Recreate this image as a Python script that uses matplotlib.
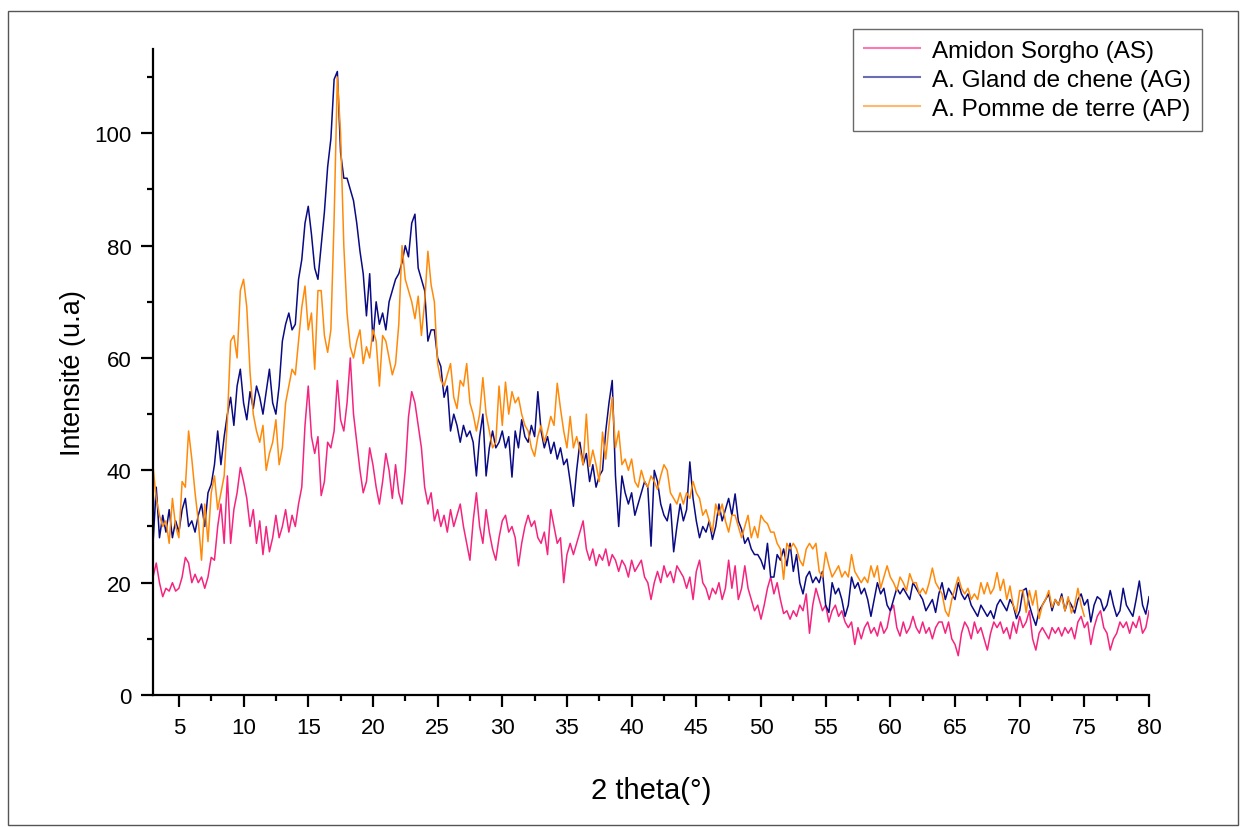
import numpy as np
import matplotlib
matplotlib.use("Agg")
import matplotlib.pyplot as plt
from matplotlib.patches import Rectangle
from matplotlib.ticker import MultipleLocator

plt.rcParams['font.family'] = ['Liberation Sans', 'DejaVu Sans']

# 2 theta grid, 0.25 deg steps
theta = np.arange(3.0, 80.001, 0.25)

# Amidon Sorgho (AS), one row per degree
amidon_sorgho = [
    21, 23.5, 20, 17.5,
    19, 18.5, 20, 18.5,
    19, 21, 24.5, 23.5,
    20, 21.5, 20, 21,
    19, 21, 24.5, 24,
    30, 34, 27, 39,
    27, 33, 36, 40.5,
    38, 35, 30, 33,
    27, 31, 25, 30,
    25.5, 28, 32, 28,
    30, 33, 29, 32,
    30, 34, 37, 48,
    55, 46, 43, 46,
    35.5, 38, 45, 44,
    47, 56, 49, 47,
    52, 60, 50, 45,
    40, 36, 38, 44,
    41, 37, 34, 38,
    43, 40, 35, 41,
    36, 34, 40, 49.5,
    54, 52, 48, 44,
    37, 34, 36, 31,
    33, 30, 32, 29,
    33, 30, 32, 34,
    30, 27, 24, 31,
    36, 30, 27, 33,
    29, 26, 24, 28,
    31, 32, 29, 30,
    28, 23, 27, 30,
    32, 30, 31, 28,
    27, 29, 25, 33,
    30, 27, 28, 20,
    25, 27, 25, 27,
    29, 31, 26, 24,
    26, 23, 25, 24,
    26, 23, 25, 24,
    22, 24, 23, 21,
    24, 22, 23, 24,
    21, 20, 17, 20,
    22, 20, 23, 21,
    22, 20, 23, 22,
    21, 19, 21, 17,
    22, 24, 20, 19,
    17, 19, 18, 20,
    17, 19, 24, 19,
    23, 17, 19, 23,
    19, 17, 15, 16,
    13.5, 16, 19, 21,
    18, 20, 17, 14.5,
    15, 13.5, 15, 14,
    16, 15, 18, 11,
    16, 19, 17, 15,
    16, 13, 15, 16,
    14, 15, 13, 12,
    13, 9, 12, 10,
    12, 13, 11, 12,
    10.5, 13, 11, 12,
    15, 16, 12, 10.5,
    13, 11, 12, 14,
    12, 11, 13, 11,
    12, 10, 12, 13,
    13, 11, 13, 10,
    9, 7, 11, 13,
    12, 10, 13, 11,
    12, 10, 8, 11,
    13, 12, 13, 11,
    12, 10, 13, 11,
    14, 12, 13, 15,
    10, 8, 11, 12,
    11, 10, 12, 11,
    12, 10.5, 12, 11,
    12, 10, 13, 14,
    12, 13, 9, 12,
    14, 15, 12, 11,
    8, 10, 11, 13,
    12, 13, 11, 13,
    12, 14, 11, 12,
    15,
]

# A. Gland de chene (AG)
gland_chene = [
    27, 37, 28, 32,
    29, 33, 28, 31,
    29, 33, 35, 30,
    31, 29, 32, 34,
    30, 36, 37.5, 41,
    47, 41, 46, 50,
    53, 48, 55, 58,
    52, 49, 54, 51,
    55, 53, 50, 54,
    58, 52, 50, 55,
    63, 66, 68, 65,
    66, 74, 77.5, 84,
    87, 82, 76, 74,
    80, 86, 94, 99,
    109.6, 111, 96.6, 92,
    92, 90, 88, 84,
    79, 75, 67.5, 75,
    63, 70, 66, 68,
    65, 70, 72, 74,
    75, 77, 80, 78,
    84, 85.6, 76, 74,
    72, 63, 65, 65,
    60, 58.5, 53, 55,
    47, 50, 48, 45,
    48, 46, 47, 45,
    39, 46, 50, 39,
    44, 47, 44, 45,
    47, 44, 46, 38.8,
    47, 44, 49, 46,
    45, 48, 46, 54,
    47, 44, 46, 43,
    45, 42, 44, 41,
    42, 38, 33.6, 40,
    45, 41, 43, 38,
    41, 37, 39, 40,
    47, 52, 56, 39,
    30, 39, 36, 34,
    36, 32, 34, 36,
    38, 37, 26.5, 40,
    38, 34, 32, 31,
    34, 25.5, 30, 34,
    31, 33, 41.5, 35,
    31, 28, 30, 29,
    31, 27.7, 30, 34,
    31, 33, 35, 32,
    35.8, 31, 29.5, 27,
    28, 26, 25, 25,
    24, 22.4, 27, 21,
    21, 25, 24, 26,
    23, 27, 22, 25,
    20, 18, 21, 22,
    20, 21, 20, 22,
    16, 14.7, 20, 18,
    19, 17, 14, 16,
    21, 19, 20, 18,
    19, 17, 14, 17,
    20, 18, 19, 16,
    15, 17, 19, 18,
    19, 18, 17, 20,
    19, 18, 17, 15,
    16, 17, 14.7, 18,
    20, 17, 19, 18,
    17, 20, 18, 17,
    18, 16, 15, 14,
    16, 15, 14, 15,
    13.6, 16, 17, 16,
    15, 17, 16, 13.6,
    15, 18.6, 19, 16,
    14, 12.4, 15, 16,
    17, 18, 15, 17,
    16, 18, 15, 17,
    16, 14.6, 17, 18,
    16, 17, 13, 16,
    17.5, 17, 15, 16,
    18.6, 16, 14, 15,
    19, 16, 15, 14,
    17, 20.3, 16, 14.4,
    17.5,
]

# A. Pomme de terre (AP), stops at 75 deg
pomme_terre = [
    40.7, 35, 32, 30,
    31, 27, 35, 30,
    28, 38, 37, 47,
    42, 36, 31, 24,
    34, 27.3, 36, 39,
    33, 36, 39, 49,
    63, 64, 60, 72,
    74, 69, 57.5, 50,
    47, 45, 48, 40,
    43, 45, 49, 41,
    44, 52, 55, 58,
    57, 63, 69, 72.8,
    65, 68, 58, 72,
    72, 64, 61, 65,
    84.7, 110, 100, 80,
    68, 62, 60, 63,
    65, 59, 62, 60,
    65, 63, 55, 64,
    63, 60, 57, 59,
    66, 80, 74, 72,
    70, 67, 71, 64,
    70, 79, 73, 70,
    59, 56, 55, 57,
    59, 53, 51, 56,
    55, 59, 52, 50,
    47, 50, 56.5, 50,
    47, 44, 45, 55,
    48, 55.7, 50, 54,
    52, 53, 50, 48,
    47, 44, 42.5, 46,
    48, 45, 47, 49.6,
    48, 55.5, 51, 47,
    44, 49.6, 44, 46,
    43.6, 41, 50, 40.7,
    43.6, 41, 38, 46.8,
    42, 48, 53, 44,
    47, 41, 42, 40,
    42, 38, 37, 40,
    38, 37, 39, 38,
    36.6, 39, 41, 40,
    36, 35, 34, 36,
    34, 36, 35, 38,
    36, 35, 32, 33,
    31, 29, 34, 32,
    34, 31, 29, 32,
    32, 30, 28, 30,
    32, 28, 30, 28,
    32, 31, 30.5, 29,
    29, 27, 26, 20.6,
    27, 26, 27, 26,
    24, 23, 26, 27,
    26, 27, 22, 21,
    25.4, 23, 21, 22,
    23, 21, 22, 21,
    25, 22, 21, 20,
    21, 20, 23, 21,
    23, 19, 21, 23,
    21, 20, 18.6, 21,
    20, 18.6, 21.6, 20,
    20, 18, 19, 18,
    20, 22.6, 20, 19,
    18, 15, 14, 17,
    19, 21, 19, 18,
    19, 17, 18, 17,
    20, 18, 20, 18,
    19, 21.8, 18.6, 20.6,
    17, 19.4, 16, 14.6,
    18.6, 18.6, 14.7, 18.6,
    16, 18.6, 13.6, 16,
    17, 18.6, 15.6, 17,
    16, 17.5, 15, 17.5,
    14.6, 16, 19, 16,
    14,
]

series_labels = ["Amidon Sorgho (AS)", "A. Gland de chene (AG)", "A. Pomme de terre (AP)"]
series_colors = ["#F5247F", "#0A0A85", "#FF8A0A"]

fig = plt.figure(figsize=(12.41, 8.28), dpi=100)
ax = fig.add_axes([0.1233, 0.1594, 0.8026, 0.7802])

data = [amidon_sorgho, gland_chene, pomme_terre]
for vals, lab, col in zip(data, series_labels, series_colors):
    ax.plot(theta[:len(vals)], vals, color=col, lw=1.1, label=lab)

ax.set_xlim(3, 80)
ax.set_ylim(0, 115)
ax.xaxis.set_minor_locator(MultipleLocator(2.5))
ax.yaxis.set_minor_locator(MultipleLocator(10))
ax.set_xticks(np.arange(5, 81, 5))
ax.set_yticks(np.arange(0, 101, 20))

for s in ["top", "right"]:
    ax.spines[s].set_visible(False)
for s in ["left", "bottom"]:
    ax.spines[s].set_linewidth(1.6)

ax.tick_params(which="major", direction="out", length=8.5, width=1.6, labelsize=16, pad=7)
ax.tick_params(which="minor", direction="out", length=4, width=1.6)

ax.set_xlabel("2 theta(°)", fontsize=21, labelpad=28)
ax.set_ylabel("Intensité (u.a)", fontsize=19.5, labelpad=6)

leg = fig.legend(loc="upper right", bbox_to_anchor=(0.9686, 0.9638), fontsize=17.5,
                 frameon=True, fancybox=False, edgecolor="#444444", handlelength=2.3,
                 borderpad=0.45, labelspacing=0.28, handletextpad=0.5, borderaxespad=0)
leg.get_frame().set_linewidth(1.0)
for line in leg.get_lines():
    line.set_alpha(0.6)
    line.set_linewidth(1.5)

# outer frame around the figure
fig.patches.append(Rectangle((8 / 1241, 2 / 828), 1230 / 1241, 814 / 828,
                             transform=fig.transFigure, fill=False,
                             edgecolor="#555555", lw=1.0))

fig.savefig("out.png", dpi=100)
